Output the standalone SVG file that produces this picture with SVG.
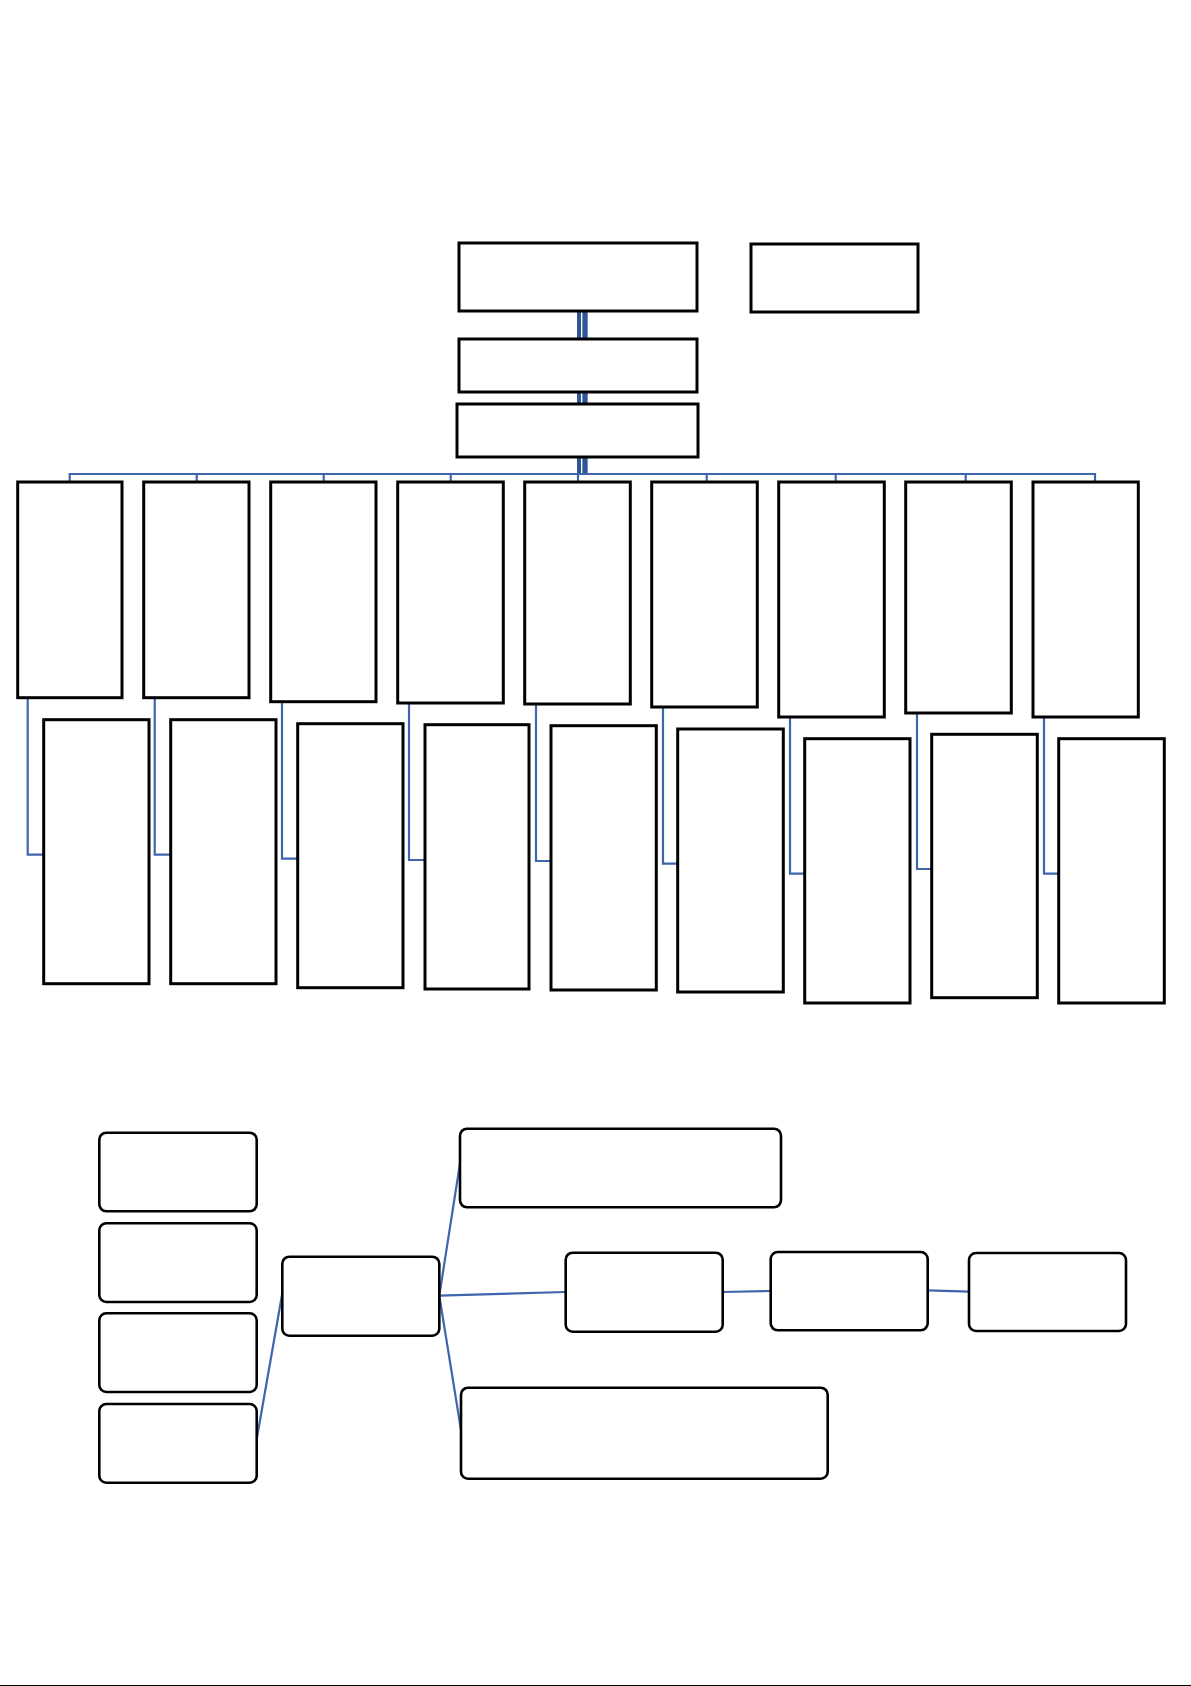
<svg xmlns="http://www.w3.org/2000/svg" width="1191" height="1686" viewBox="0 0 1191 1686">
<style>
.box{fill:#fff;stroke:#000;stroke-width:3}
.rbox{fill:#fff;stroke:#000;stroke-width:2.6}
.c{fill:none;stroke:#3F66AD;stroke-width:2.2}
.dbl{fill:none;stroke:#2F5597}
</style>
<rect width="1191" height="1686" fill="#fff"/>
<g id="connectors">
<line class="dbl" x1="579" y1="311" x2="579" y2="474" stroke-width="4"/>
<line class="dbl" x1="585" y1="311" x2="585" y2="474" stroke-width="5.3"/>
<polyline class="c" points="69.7,482 69.7,474 1095,474 1095,482"/>
<line class="c" x1="196.7" y1="474" x2="196.7" y2="482"/>
<line class="c" x1="323.7" y1="474" x2="323.7" y2="482"/>
<line class="c" x1="450.7" y1="474" x2="450.7" y2="482"/>
<line class="c" x1="578" y1="474" x2="578" y2="482"/>
<line class="c" x1="706.7" y1="474" x2="706.7" y2="482"/>
<line class="c" x1="835.7" y1="474" x2="835.7" y2="482"/>
<line class="c" x1="965.7" y1="474" x2="965.7" y2="482"/>
<polyline class="c" points="27.7,697.7 27.7,854.7 43.7,854.7"/>
<polyline class="c" points="154.7,697.7 154.7,854.7 170.7,854.7"/>
<polyline class="c" points="282,701.7 282,858.7 297.7,858.7"/>
<polyline class="c" points="409,703 409,860 425,860"/>
<polyline class="c" points="536,704 536,861 551,861"/>
<polyline class="c" points="663,707 663,863.7 677.7,863.7"/>
<polyline class="c" points="790,717 790,873.7 804.7,873.7"/>
<polyline class="c" points="917,713 917,869 931.7,869"/>
<polyline class="c" points="1044,717 1044,873.7 1058.7,873.7"/>
<line class="c" x1="256" y1="1443.3" x2="282.3" y2="1293.3"/>
<line class="c" x1="439.3" y1="1295.7" x2="460" y2="1163.3"/>
<line class="c" x1="439.3" y1="1295.7" x2="565.7" y2="1292"/>
<line class="c" x1="439.3" y1="1295.7" x2="461" y2="1430"/>
<line class="c" x1="722.7" y1="1292" x2="770.7" y2="1291"/>
<line class="c" x1="927.7" y1="1290.3" x2="969" y2="1291.7"/>
</g>
<g id="top">
<rect id="n-main" class="box" x="459" y="243" width="238" height="68"/>
<rect id="n-side" class="box" x="751" y="244" width="167" height="68"/>
<rect id="n-second" class="box" x="459" y="339" width="238" height="53"/>
<rect id="n-third" class="box" x="457" y="404" width="241" height="53"/>
</g>
<g id="row1">
<rect id="r1-1" class="box" x="17.7" y="482" width="104.3" height="215.7"/>
<rect id="r1-2" class="box" x="143.7" y="482" width="105.3" height="215.7"/>
<rect id="r1-3" class="box" x="270.7" y="482" width="105.3" height="219.7"/>
<rect id="r1-4" class="box" x="397.7" y="482" width="105.6" height="221"/>
<rect id="r1-5" class="box" x="524.7" y="482" width="105.6" height="222"/>
<rect id="r1-6" class="box" x="651.7" y="482" width="105.6" height="225"/>
<rect id="r1-7" class="box" x="778.7" y="482" width="105.6" height="235"/>
<rect id="r1-8" class="box" x="905.7" y="482" width="105.6" height="231"/>
<rect id="r1-9" class="box" x="1033" y="482" width="105.3" height="235"/>
</g>
<g id="row2">
<rect id="r2-1" class="box" x="43.7" y="719.7" width="105.3" height="264"/>
<rect id="r2-2" class="box" x="170.7" y="719.7" width="105.3" height="264"/>
<rect id="r2-3" class="box" x="297.7" y="723.7" width="105.3" height="264"/>
<rect id="r2-4" class="box" x="425" y="724.7" width="104" height="264.3"/>
<rect id="r2-5" class="box" x="551" y="725.7" width="105.3" height="264.3"/>
<rect id="r2-6" class="box" x="677.7" y="729" width="105.6" height="263"/>
<rect id="r2-7" class="box" x="804.7" y="738.7" width="105.3" height="264.3"/>
<rect id="r2-8" class="box" x="931.7" y="734.3" width="105.6" height="263.4"/>
<rect id="r2-9" class="box" x="1058.7" y="738.7" width="105.6" height="264.3"/>
</g>
<g id="bottom">
<rect id="l1" class="rbox" x="99.3" y="1132.7" width="157.4" height="78.6" rx="7"/>
<rect id="l2" class="rbox" x="99.3" y="1223.3" width="157.4" height="78.7" rx="7"/>
<rect id="l3" class="rbox" x="99.3" y="1313.3" width="157.4" height="78.7" rx="7"/>
<rect id="l4" class="rbox" x="99.3" y="1404" width="157.4" height="78.7" rx="7"/>
<rect id="m" class="rbox" x="282.3" y="1256.7" width="157" height="79" rx="7"/>
<rect id="t" class="rbox" x="460" y="1128.7" width="321" height="78.6" rx="7"/>
<rect id="n1" class="rbox" x="565.7" y="1252.7" width="157" height="79" rx="7"/>
<rect id="n2" class="rbox" x="770.7" y="1252" width="157" height="78.3" rx="7"/>
<rect id="n3" class="rbox" x="969" y="1253" width="157" height="78" rx="7"/>
<rect id="b" class="rbox" x="461" y="1387.7" width="366.7" height="91" rx="7"/>
</g>
<line x1="0" y1="1685.5" x2="1191" y2="1685.5" stroke="#000" stroke-width="1"/>
</svg>
